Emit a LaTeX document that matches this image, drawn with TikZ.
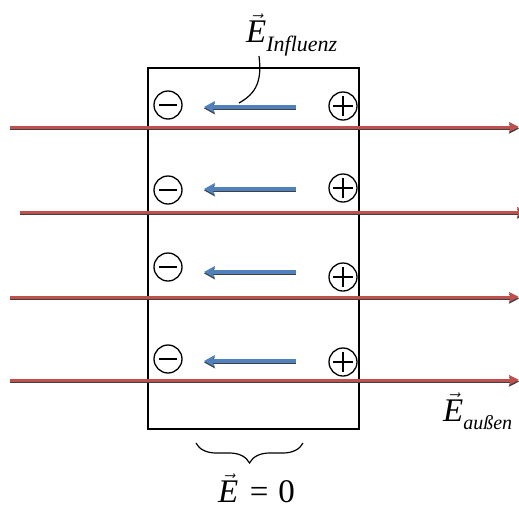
\documentclass[tikz,border=0pt]{standalone}
\usepackage{amsmath}
\usepackage{fontspec}
\setmainfont{Liberation Serif}
\usetikzlibrary{arrows.meta,decorations.pathreplacing}
\definecolor{fieldred}{RGB}{192,80,77}
\definecolor{fieldblue}{RGB}{79,129,189}
\definecolor{shade}{RGB}{64,64,64}
\tikzset{
  plate/.style={draw,line width=1.4pt,inner sep=0pt,minimum width=211pt,minimum height=361pt},
  charge/.style={circle,draw,line width=1.3pt,inner sep=0pt,minimum size=28pt},
  negcharge/.style={charge,path picture={
    \draw[line width=1.3pt] ([xshift=5pt]path picture bounding box.west) -- ([xshift=-5pt]path picture bounding box.east);}},
  poscharge/.style={charge,path picture={
    \draw[line width=1.3pt] ([xshift=4pt]path picture bounding box.west) -- ([xshift=-4pt]path picture bounding box.east)
      ([yshift=-4pt]path picture bounding box.north) -- ([yshift=4pt]path picture bounding box.south);}},
  fieldout/.style={draw=fieldred,line width=3pt,-{Stealth[length=10pt,width=10pt,inset=2pt]},
    preaction={draw=shade,line width=3pt,-{Stealth[length=10pt,width=10pt,inset=2pt]},transform canvas={yshift=-1.6pt}}},
  fieldin/.style={draw=fieldblue,line width=3.2pt,-{Stealth[length=11pt,width=12pt,inset=3pt]},
    preaction={draw=shade,line width=3.2pt,-{Stealth[length=11pt,width=12pt,inset=3pt]},transform canvas={yshift=-1.4pt}}},
  bigtext/.style={inner sep=0pt,font=\fontsize{33}{38}\selectfont},
}
\newcommand{\vE}{$\vec{\text{\itshape E}}$}

\begin{document}
\begin{tikzpicture}[x=1pt,y=-1pt]
  \useasboundingbox (0,0) rectangle (519,509);
  \node[plate] (slab) at (253.5,248.5) {};
  \node[negcharge] (m1) at (168,105) {};
  \node[negcharge] (m2) at (168,190) {};
  \node[negcharge] (m3) at (168,267) {};
  \node[negcharge] (m4) at (168,359) {};
  \node[poscharge] (p1) at (343,106) {};
  \node[poscharge] (p2) at (343,188) {};
  \node[poscharge] (p3) at (343,277) {};
  \node[poscharge] (p4) at (343,362) {};
  \coordinate (b1) at (296,107); \coordinate (b1e) at (204,107);
  \coordinate (b2) at (296,189); \coordinate (b2e) at (204,189);
  \coordinate (b3) at (296,272); \coordinate (b3e) at (204,272);
  \coordinate (b4) at (296,361); \coordinate (b4e) at (204,361);
  \draw[fieldin] (b1) -- (b1e);
  \draw[fieldin] (b2) -- (b2e);
  \draw[fieldin] (b3) -- (b3e);
  \draw[fieldin] (b4) -- (b4e);
  \coordinate (r1) at (10,127); \coordinate (r1e) at (519,127);
  \coordinate (r2) at (20,212); \coordinate (r2e) at (527,212);
  \coordinate (r3) at (10,297); \coordinate (r3e) at (519,297);
  \coordinate (r4) at (10,380); \coordinate (r4e) at (519,380);
  \draw[fieldout] (r1) -- (r1e);
  \draw[fieldout] (r2) -- (r2e);
  \draw[fieldout] (r3) -- (r3e);
  \draw[fieldout] (r4) -- (r4e);
  \node[bigtext,anchor=base west] (einf) at (246,42)
    {\vE\raisebox{-9pt}{\fontsize{22}{22}\selectfont\itshape Influenz}};
  \coordinate (cal) at (259,56); \coordinate (cale) at (239,103);
  \draw[line width=1.2pt] (cal) .. controls (262,80) and (257,93) .. (cale);
  \node[bigtext,anchor=base west] (eaus) at (443,421)
    {\vE\raisebox{-8pt}{\fontsize{20}{20}\selectfont\itshape außen}};
  \coordinate (brl) at (196,443); \coordinate (brr) at (303,443);
  \draw[line width=1.2pt,decorate,decoration={brace,mirror,amplitude=20pt}] (brl) -- (brr);
  \node[bigtext,anchor=base west] (ezero) at (218,502) {\vE\hspace{0.35em}=\hspace{0.3em}0};
\end{tikzpicture}
\end{document}
